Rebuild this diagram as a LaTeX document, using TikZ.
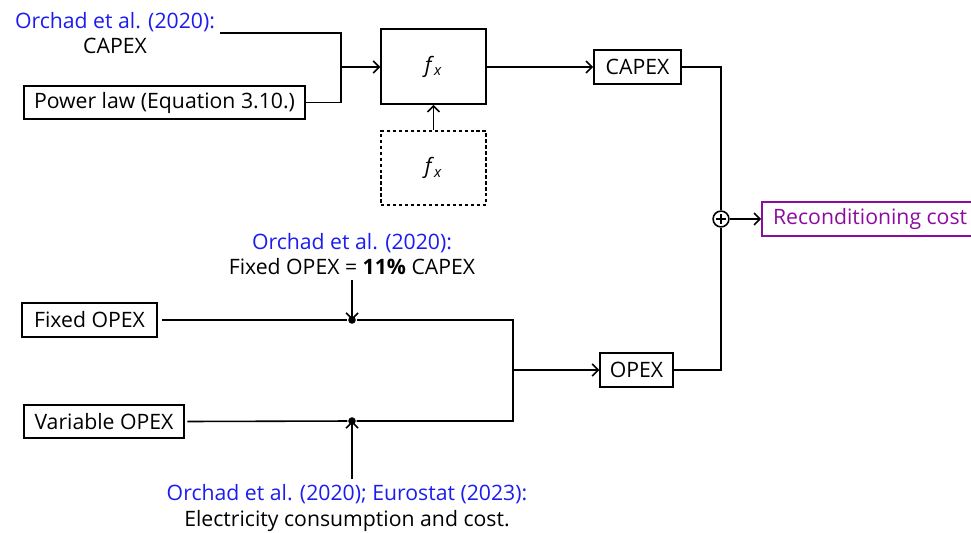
\documentclass[tikz,border=0pt]{standalone}
\usepackage{fontspec}
\setmainfont{Open Sans}
\usetikzlibrary{arrows.meta}

\definecolor{citeblue}{RGB}{28,28,238}
\definecolor{costpurple}{RGB}{140,12,160}

\newcommand{\labelsize}{\fontsize{16}{19.5}\selectfont}

\begin{document}
\begin{tikzpicture}[
    x=0.0265cm, y=-0.0265cm, % one unit = one pixel of the reference
    >={Straight Barb[length=4.5pt,width=9pt]},
    line width=1.2pt,
    every node/.style={font=\labelsize, line width=1.2pt},
    box/.style={draw, inner sep=0pt},
    dot/.style={circle, fill, inner sep=0pt, minimum size=0.2cm}
]
    \useasboundingbox (0,0) rectangle (971,533);

    % CAPEX branch
    \node[align=center] (capsrc) at (115,33) {{\color{citeblue}Orchad et al. (2020):}\\CAPEX};
    \node[box, minimum width=7.45cm, minimum height=0.87cm] (powerlaw) at (164.5,102.5) {Power law (Equation 3.10.)};
    \coordinate (capjoin) at (341,67);
    \node[box, minimum width=2.78cm, minimum height=1.99cm] (fx) at (433.5,66.5) {\textit{f}\textsubscript{\textit{x}}};
    \node[box, dash pattern=on 2.5pt off 2pt, minimum width=2.78cm, minimum height=1.96cm] (fxdash) at (433.5,168) {\textit{f}\textsubscript{\textit{x}}};
    \node[box, minimum width=2.31cm, minimum height=0.9cm] (capex) at (637.5,67) {CAPEX};

    \draw (capsrc.east) -| (capjoin);
    \draw (powerlaw.east) -| (capjoin);
    \draw[->] (capjoin) -- (fx.west |- capjoin);
    \draw[->] (fxdash) -- (fx);
    \draw[->] (fx.east |- capex) -- (capex);

    % Sum and output
    \node[circle, draw, inner sep=0pt, minimum size=0.42cm] (sum) at (721,219) {};
    \draw[line width=0.9pt] (sum.center) +(0,-5) -- +(0,5) (sum.center) +(-5,0) -- +(5,0);
    \node[box, draw=costpurple, text=costpurple, minimum width=5.83cm, minimum height=0.9cm] (recond) at (872,219) {\hspace*{-0.1cm}Reconditioning cost};
    \draw[->] (sum) -- (recond);

    % OPEX branch
    \node[align=center] (fixsrc) at (352,254) {{\color{citeblue}Orchad et al. (2020):}\\Fixed OPEX = \textbf{11\%} CAPEX};
    \node[box, minimum width=3.58cm, minimum height=0.9cm] (fixed) at (89.5,320) {Fixed OPEX};
    \node[box, minimum width=4.24cm, minimum height=0.87cm] (variable) at (104,421.5) {Variable OPEX};
    \node[dot] (fixdot) at (352,320) {};
    \node[dot] (vardot) at (352,421) {};
    \coordinate (opexjoin) at (513,370);
    \node[box, minimum width=1.93cm, minimum height=0.9cm] (opex) at (636.5,370) {OPEX};
    \node[align=center] (varsrc) at (347,508) {{\color{citeblue}Orchad et al. (2020); Eurostat (2023):}\\Electricity consumption and cost.};

    \draw ([xshift=3pt]fixed.east) -- (fixdot) -| (opexjoin);
    \draw ([xshift=2pt]variable.east) -- (vardot) -| (opexjoin);
    \draw[->] (opexjoin) -- (opex);
    \draw[->] (fixsrc.south -| fixdot) -- (fixdot.center);
    \draw[->] (varsrc.north -| vardot) -- (vardot.center);

    % CAPEX and OPEX into the sum
    \draw (capex.east) -| (sum.north);
    \draw (opex.east) -| (sum.south);
\end{tikzpicture}
\end{document}
